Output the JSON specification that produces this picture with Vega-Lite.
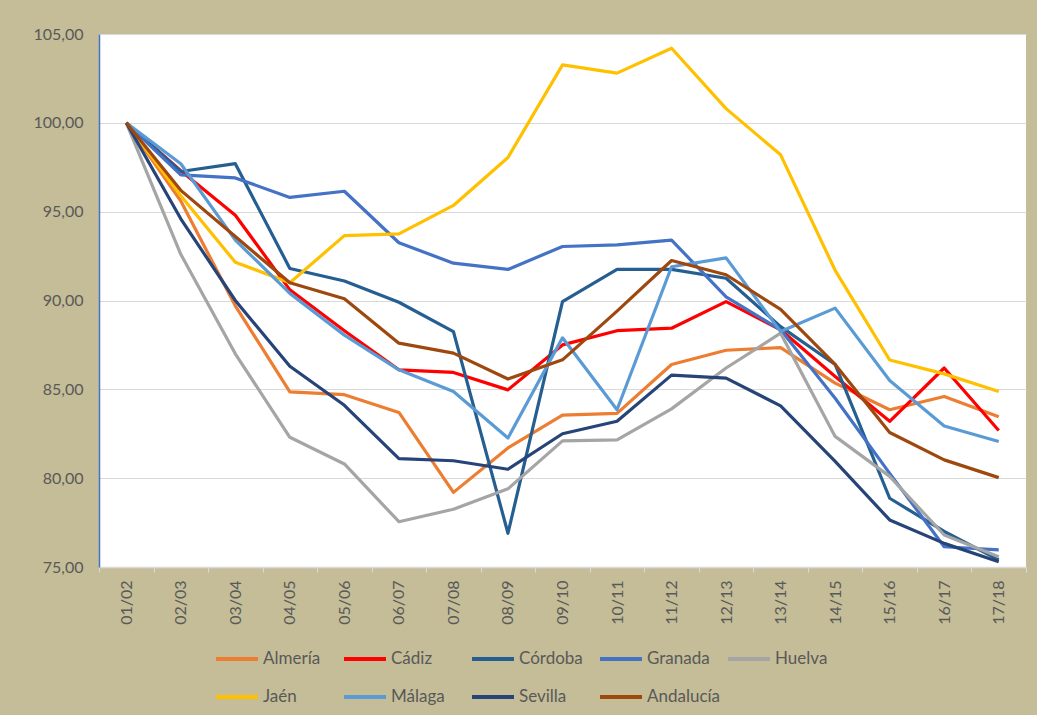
{
  "$schema": "https://vega.github.io/schema/vega-lite/v6.json",
  "autosize": {"type": "none"},
  "width": 927,
  "height": 533,
  "padding": {"left": 99, "top": 34, "right": 11, "bottom": 148},
  "background": "#C4BD97",
  "config": {
    "view": {"fill": "white", "stroke": null},
    "font": "Lato",
    "axis": {"labelFont": "Lato", "labelFontSize": 16, "labelColor": "#595959"},
    "legend": {"labelFont": "Lato", "labelFontSize": 17, "labelColor": "#595959"}
  },
  "data": {"values": [
    {"s":"Almería","c":"01/02","v":100},{"s":"Almería","c":"02/03","v":95.6},{"s":"Almería","c":"03/04","v":89.7},{"s":"Almería","c":"04/05","v":84.86},{"s":"Almería","c":"05/06","v":84.7},{"s":"Almería","c":"06/07","v":83.7},{"s":"Almería","c":"07/08","v":79.2},{"s":"Almería","c":"08/09","v":81.7},{"s":"Almería","c":"09/10","v":83.55},{"s":"Almería","c":"10/11","v":83.65},{"s":"Almería","c":"11/12","v":86.4},{"s":"Almería","c":"12/13","v":87.2},{"s":"Almería","c":"13/14","v":87.35},{"s":"Almería","c":"14/15","v":85.35},{"s":"Almería","c":"15/16","v":83.85},{"s":"Almería","c":"16/17","v":84.6},{"s":"Almería","c":"17/18","v":83.45},
    {"s":"Cádiz","c":"01/02","v":100},{"s":"Cádiz","c":"02/03","v":97.3},{"s":"Cádiz","c":"03/04","v":94.8},{"s":"Cádiz","c":"04/05","v":90.6},{"s":"Cádiz","c":"05/06","v":88.3},{"s":"Cádiz","c":"06/07","v":86.1},{"s":"Cádiz","c":"07/08","v":85.95},{"s":"Cádiz","c":"08/09","v":84.97},{"s":"Cádiz","c":"09/10","v":87.5},{"s":"Cádiz","c":"10/11","v":88.3},{"s":"Cádiz","c":"11/12","v":88.44},{"s":"Cádiz","c":"12/13","v":89.94},{"s":"Cádiz","c":"13/14","v":88.35},{"s":"Cádiz","c":"14/15","v":85.72},{"s":"Cádiz","c":"15/16","v":83.2},{"s":"Cádiz","c":"16/17","v":86.2},{"s":"Cádiz","c":"17/18","v":82.68},
    {"s":"Córdoba","c":"01/02","v":100},{"s":"Córdoba","c":"02/03","v":97.26},{"s":"Córdoba","c":"03/04","v":97.7},{"s":"Córdoba","c":"04/05","v":91.8},{"s":"Córdoba","c":"05/06","v":91.1},{"s":"Córdoba","c":"06/07","v":89.9},{"s":"Córdoba","c":"07/08","v":88.25},{"s":"Córdoba","c":"08/09","v":76.9},{"s":"Córdoba","c":"09/10","v":89.94},{"s":"Córdoba","c":"10/11","v":91.75},{"s":"Córdoba","c":"11/12","v":91.75},{"s":"Córdoba","c":"12/13","v":91.25},{"s":"Córdoba","c":"13/14","v":88.53},{"s":"Córdoba","c":"14/15","v":86.4},{"s":"Córdoba","c":"15/16","v":78.87},{"s":"Córdoba","c":"16/17","v":77.0},{"s":"Córdoba","c":"17/18","v":75.4},
    {"s":"Granada","c":"01/02","v":100},{"s":"Granada","c":"02/03","v":97.07},{"s":"Granada","c":"03/04","v":96.9},{"s":"Granada","c":"04/05","v":95.8},{"s":"Granada","c":"05/06","v":96.15},{"s":"Granada","c":"06/07","v":93.25},{"s":"Granada","c":"07/08","v":92.1},{"s":"Granada","c":"08/09","v":91.75},{"s":"Granada","c":"09/10","v":93.04},{"s":"Granada","c":"10/11","v":93.13},{"s":"Granada","c":"11/12","v":93.4},{"s":"Granada","c":"12/13","v":90.2},{"s":"Granada","c":"13/14","v":88.35},{"s":"Granada","c":"14/15","v":84.5},{"s":"Granada","c":"15/16","v":80.27},{"s":"Granada","c":"16/17","v":76.14},{"s":"Granada","c":"17/18","v":75.96},
    {"s":"Huelva","c":"01/02","v":100},{"s":"Huelva","c":"02/03","v":92.6},{"s":"Huelva","c":"03/04","v":87.0},{"s":"Huelva","c":"04/05","v":82.3},{"s":"Huelva","c":"05/06","v":80.8},{"s":"Huelva","c":"06/07","v":77.55},{"s":"Huelva","c":"07/08","v":78.25},{"s":"Huelva","c":"08/09","v":79.4},{"s":"Huelva","c":"09/10","v":82.1},{"s":"Huelva","c":"10/11","v":82.15},{"s":"Huelva","c":"11/12","v":83.9},{"s":"Huelva","c":"12/13","v":86.2},{"s":"Huelva","c":"13/14","v":88.16},{"s":"Huelva","c":"14/15","v":82.35},{"s":"Huelva","c":"15/16","v":80.1},{"s":"Huelva","c":"16/17","v":76.8},{"s":"Huelva","c":"17/18","v":75.58},
    {"s":"Jaén","c":"01/02","v":100},{"s":"Jaén","c":"02/03","v":95.9},{"s":"Jaén","c":"03/04","v":92.15},{"s":"Jaén","c":"04/05","v":91.0},{"s":"Jaén","c":"05/06","v":93.65},{"s":"Jaén","c":"06/07","v":93.75},{"s":"Jaén","c":"07/08","v":95.35},{"s":"Jaén","c":"08/09","v":98.05},{"s":"Jaén","c":"09/10","v":103.26},{"s":"Jaén","c":"10/11","v":102.8},{"s":"Jaén","c":"11/12","v":104.2},{"s":"Jaén","c":"12/13","v":100.8},{"s":"Jaén","c":"13/14","v":98.2},{"s":"Jaén","c":"14/15","v":91.7},{"s":"Jaén","c":"15/16","v":86.65},{"s":"Jaén","c":"16/17","v":85.87},{"s":"Jaén","c":"17/18","v":84.88},
    {"s":"Málaga","c":"01/02","v":100},{"s":"Málaga","c":"02/03","v":97.7},{"s":"Málaga","c":"03/04","v":93.4},{"s":"Málaga","c":"04/05","v":90.4},{"s":"Málaga","c":"05/06","v":88.05},{"s":"Málaga","c":"06/07","v":86.1},{"s":"Málaga","c":"07/08","v":84.88},{"s":"Málaga","c":"08/09","v":82.26},{"s":"Málaga","c":"09/10","v":87.9},{"s":"Málaga","c":"10/11","v":83.85},{"s":"Málaga","c":"11/12","v":91.9},{"s":"Málaga","c":"12/13","v":92.4},{"s":"Málaga","c":"13/14","v":88.25},{"s":"Málaga","c":"14/15","v":89.57},{"s":"Málaga","c":"15/16","v":85.5},{"s":"Málaga","c":"16/17","v":82.94},{"s":"Málaga","c":"17/18","v":82.06},
    {"s":"Sevilla","c":"01/02","v":100},{"s":"Sevilla","c":"02/03","v":94.6},{"s":"Sevilla","c":"03/04","v":90.0},{"s":"Sevilla","c":"04/05","v":86.3},{"s":"Sevilla","c":"05/06","v":84.1},{"s":"Sevilla","c":"06/07","v":81.1},{"s":"Sevilla","c":"07/08","v":80.98},{"s":"Sevilla","c":"08/09","v":80.5},{"s":"Sevilla","c":"09/10","v":82.5},{"s":"Sevilla","c":"10/11","v":83.2},{"s":"Sevilla","c":"11/12","v":85.8},{"s":"Sevilla","c":"12/13","v":85.63},{"s":"Sevilla","c":"13/14","v":84.07},{"s":"Sevilla","c":"14/15","v":80.94},{"s":"Sevilla","c":"15/16","v":77.65},{"s":"Sevilla","c":"16/17","v":76.33},{"s":"Sevilla","c":"17/18","v":75.3},
    {"s":"Andalucía","c":"01/02","v":100},{"s":"Andalucía","c":"02/03","v":96.2},{"s":"Andalucía","c":"03/04","v":93.6},{"s":"Andalucía","c":"04/05","v":91.0},{"s":"Andalucía","c":"05/06","v":90.1},{"s":"Andalucía","c":"06/07","v":87.6},{"s":"Andalucía","c":"07/08","v":87.04},{"s":"Andalucía","c":"08/09","v":85.58},{"s":"Andalucía","c":"09/10","v":86.66},{"s":"Andalucía","c":"10/11","v":89.4},{"s":"Andalucía","c":"11/12","v":92.25},{"s":"Andalucía","c":"12/13","v":91.45},{"s":"Andalucía","c":"13/14","v":89.5},{"s":"Andalucía","c":"14/15","v":86.4},{"s":"Andalucía","c":"15/16","v":82.57},{"s":"Andalucía","c":"16/17","v":81.03},{"s":"Andalucía","c":"17/18","v":80.03}
  ]},
  "mark": {"type": "line", "strokeWidth": 3.2, "strokeJoin": "round", "strokeCap": "butt"},
  "encoding": {
    "x": {
      "field": "c", "type": "ordinal", "sort": null, "bandPosition": 0.5,
      "scale": {"type": "band", "paddingInner": 0, "paddingOuter": 0},
      "axis": {
        "title": null, "labelAngle": -90, "tickBand": "extent", "tickSize": 5,
        "tickColor": "#D9D9D9", "domainColor": "#D9D9D9", "domainWidth": 1.5,
        "labelPadding": 8, "grid": false
      }
    },
    "y": {
      "field": "v", "type": "quantitative",
      "scale": {"domain": [75, 105], "zero": false, "nice": false},
      "axis": {
        "title": null, "values": [75, 80, 85, 90, 95, 100, 105], "ticks": false,
        "labelPadding": 16, "domainColor": "#4472C4", "domainWidth": 1.5,
        "gridColor": "#D9D9D9", "gridWidth": 1.2,
        "labelExpr": "replace(format(datum.value, '.2f'), '.', ',')"
      }
    },
    "color": {
      "field": "s", "type": "nominal",
      "scale": {
        "domain": ["Almería", "Cádiz", "Córdoba", "Granada", "Huelva", "Jaén", "Málaga", "Sevilla", "Andalucía"],
        "range": ["#ED7D31", "#FF0000", "#255E91", "#4472C4", "#A5A5A5", "#FFC000", "#5B9BD5", "#264478", "#9E480E"]
      },
      "legend": {
        "title": null, "orient": "none", "legendX": 115, "legendY": 602,
        "direction": "horizontal", "columns": 5, "gridAlign": "all",
        "symbolType": "stroke", "symbolSize": 1764, "symbolStrokeWidth": 4,
        "labelOffset": 3, "columnPadding": -1, "rowPadding": 7
      }
    }
  }
}
